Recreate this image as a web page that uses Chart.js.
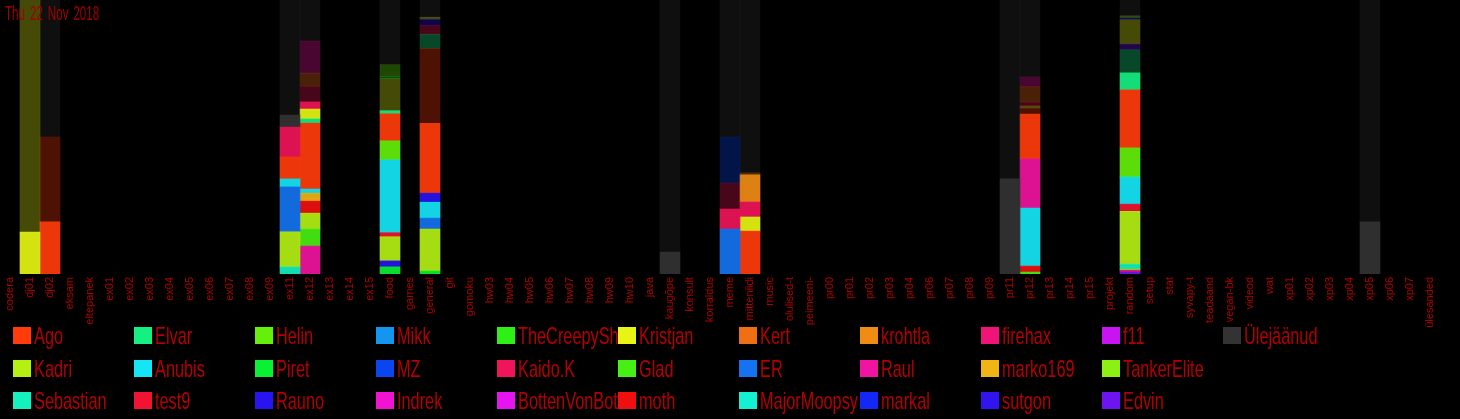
<!DOCTYPE html>
<html>
<head>
<meta charset="utf-8">
<script src="https://cdn.jsdelivr.net/npm/chart.js@4"></script>
<style>
  html, body { margin: 0; padding: 0; background: #000; }
  #wrap { position: relative; width: 1460px; height: 419px; overflow: hidden; }
  #plot { position: absolute; left: 0; top: 0; width: 1460px; height: 332px; }
  #date { position: absolute; left: 5px; top: 3px; font: 20px/20px 'Liberation Sans', sans-serif; word-spacing: 3px;
          color: #a00000; transform: scaleX(0.58); transform-origin: left top; white-space: nowrap; }
  #legend { position: absolute; left: 13px; top: 320px; display: grid; grid-template-rows: repeat(3, 32.5px);
            grid-auto-flow: column; grid-auto-columns: 121px; }
  .item { white-space: nowrap; overflow: hidden; font: 24px/32px 'Liberation Sans', sans-serif; color: #b40000; }
  .box { display: inline-block; width: 18px; height: 17px; margin-right: 3px; vertical-align: baseline; }
  .name { display: inline-block; transform: scaleX(0.68); transform-origin: left bottom; }
</style>
</head>
<body>
<div id="wrap">
  <div id="plot"><canvas id="channels"></canvas></div>
  <div id="date">Thu 22 Nov 2018</div>
  <div id="legend"></div>
</div>
<script>
// channels (x axis)
var channels = ['codera', 'dj01', 'dj02', 'eksam', 'eltepanek', 'ex01', 'ex02', 'ex03', 'ex04', 'ex05', 'ex06', 'ex07',
    'ex08', 'ex09', 'ex11', 'ex12', 'ex13', 'ex14', 'ex15', 'food', 'games', 'general', 'git', 'gomoku', 'hw03', 'hw04',
    'hw05', 'hw06', 'hw07', 'hw08', 'hw09', 'hw10', 'java', 'kaugõpe', 'konsult', 'korraldus', 'meme', 'mitteniidi',
    'music', 'olulised-t', 'peimeeni-', 'pr00', 'pr01', 'pr02', 'pr03', 'pr04', 'pr06', 'pr07', 'pr08', 'pr09', 'pr11',
    'pr12', 'pr13', 'pr14', 'pr15', 'projekt', 'random', 'setup', 'stat', 'syvapy-t', 'teadaand', 'vegan-bk', 'videod',
    'wat', 'xp01', 'xp02', 'xp03', 'xp04', 'xp05', 'xp06', 'xp07', 'ülesanded'];

// users, in legend order
var users = ['Ago', 'Kadri', 'Sebastian', 'Elvar', 'Anubis', 'test9', 'Helin', 'Piret', 'Rauno', 'Mikk', 'MZ', 'Indrek',
    'TheCreepySh', 'Kaido.K', 'BottenVonBot', 'Kristjan', 'Glad', 'moth', 'Kert', 'ER', 'MajorMoopsy', 'krohtla', 'Raul',
    'markal', 'firehax', 'marko169', 'sutgon', 'f11', 'TankerElite', 'Edvin', 'Ülejäänud'];
var userColors = ['#ff3c0a', '#b4f014', '#14f0be', '#14f082', '#14e6f5', '#f01432', '#64f00a', '#0af032', '#2814f0',
    '#1496f0', '#0a46f0', '#f014d2', '#2df014', '#f0145a', '#e614f0', '#e6f514', '#46f014', '#f00f0f', '#f06e14',
    '#1473f0', '#14f0d2', '#f08c14', '#f014a0', '#1428f5', '#f01478', '#f0b414', '#3214f0', '#c814f0', '#8cf014',
    '#6e14f0', '#333333'];

// share of messages per channel (%), today and earlier, bottom to top
var dj01Today = [['Kristjan', 15.3]];
var dj01Earlier = [['Kristjan', 84.7]];
var dj02Today = [['Ago', 19.0]];
var dj02Earlier = [['Ago', 31.0], ['Ülejäänud', 50.0]];
var ex11Today = [['Sebastian', 2.6], ['Kadri', 12.8], ['ER', 16.4], ['Anubis', 2.9], ['Ago', 8.0], ['Kaido.K', 10.9], ['Ülejäänud', 4.4]];
var ex11Earlier = [['Ülejäänud', 42.0]];
var ex12Today = [['Raul', 10.2], ['Glad', 6.2], ['Kadri', 5.8], ['moth', 4.4], ['marko169', 2.9], ['Anubis', 1.5],
    ['Ago', 24.1], ['Elvar', 1.5], ['Kristjan', 3.6], ['Kaido.K', 2.6]];
var ex12Earlier = [['Kaido.K', 5.8], ['Kert', 4.7], ['Raul', 11.7], ['Ülejäänud', 15.0]];
var foodToday = [['Piret', 2.6], ['Rauno', 2.2], ['Kadri', 8.8], ['test9', 1.5], ['Anubis', 26.6], ['Helin', 6.9],
    ['Ago', 9.9], ['Elvar', 1.1]];
var foodEarlier = [['Kristjan', 11.7], ['Piret', 0.7], ['Helin', 4.4], ['Ülejäänud', 23.6]];
var generalToday = [['Piret', 1.1], ['Kadri', 15.3], ['ER', 4.0], ['Anubis', 5.8], ['Rauno', 3.3], ['Ago', 25.5]];
var generalEarlier = [['Ago', 27.4], ['Elvar', 5.1], ['Kaido.K', 3.3], ['Rauno', 2.2], ['Kristjan', 0.7], ['Ülejäänud', 6.3]];
var kaugopeToday = [['Ülejäänud', 8.0]];
var kaugopeEarlier = [['Ülejäänud', 92.0]];
var memeToday = [['ER', 16.4], ['Kaido.K', 7.3]];
var memeEarlier = [['Kaido.K', 9.5], ['MZ', 16.8], ['Ülejäänud', 50.0]];
var mitteniidiToday = [['Ago', 15.7], ['Kristjan', 5.1], ['Kaido.K', 5.5], ['krohtla', 9.9]];
var mitteniidiEarlier = [['krohtla', 0.7], ['Ülejäänud', 63.1]];
var pr11Today = [['Ülejäänud', 34.7]];
var pr11Earlier = [['Ülejäänud', 65.3]];
var pr12Today = [['Glad', 0.7], ['moth', 2.2], ['Anubis', 21.2], ['Raul', 17.9], ['Ago', 16.4]];
var pr12Earlier = [['Ago', 2.2], ['Kristjan', 0.7], ['Kaido.K', 1.5], ['Kert', 5.5], ['Raul', 3.6], ['Ülejäänud', 28.1]];
var randomToday = [['Edvin', 0.7], ['firehax', 0.7], ['TankerElite', 0.4], ['Sebastian', 1.8], ['Kadri', 19.3],
    ['test9', 2.6], ['Anubis', 9.9], ['Helin', 10.6], ['Ago', 21.2], ['Elvar', 6.2]];
var randomEarlier = [['Elvar', 8.4], ['Edvin', 2.2], ['Kristjan', 8.8], ['Rauno', 0.7], ['TankerElite', 0.7], ['Ülejäänud', 5.8]];
var xp05Today = [['Ülejäänud', 19.0]];
var xp05Earlier = [['Ülejäänud', 81.0]];

var activeChannels = [
    ['dj01', dj01Today, dj01Earlier],
    ['dj02', dj02Today, dj02Earlier],
    ['ex11', ex11Today, ex11Earlier],
    ['ex12', ex12Today, ex12Earlier],
    ['food', foodToday, foodEarlier],
    ['general', generalToday, generalEarlier],
    ['kaugõpe', kaugopeToday, kaugopeEarlier],
    ['meme', memeToday, memeEarlier],
    ['mitteniidi', mitteniidiToday, mitteniidiEarlier],
    ['pr11', pr11Today, pr11Earlier],
    ['pr12', pr12Today, pr12Earlier],
    ['random', randomToday, randomEarlier],
    ['xp05', xp05Today, xp05Earlier]
];

function rgba(hex, a) {
    var n = parseInt(hex.slice(1), 16);
    return 'rgba(' + (n >> 16) + ',' + ((n >> 8) & 255) + ',' + (n & 255) + ',' + a + ')';
}

// one dataset per bar segment so every channel keeps its own order
var datasets = [];
function addSegments(channel, list, alpha) {
    list.forEach(function (s) {
        datasets.push({
            label: s[0],
            data: [{ x: channel, y: s[1] }],
            backgroundColor: rgba(userColors[users.indexOf(s[0])], alpha),
            borderWidth: 0,
            barPercentage: 1,
            categoryPercentage: 1
        });
    });
}
activeChannels.forEach(function (c) {
    addSegments(c[0], c[1], 0.92);
    addSegments(c[0], c[2], 0.3);
});

var ctx = document.getElementById('channels');
var myChart = new Chart(ctx, {
    type: 'bar',
    data: { labels: channels, datasets: datasets },
    options: {
        responsive: true,
        maintainAspectRatio: false,
        animation: false,
        layout: { padding: { left: 0, right: 20, top: 0, bottom: 0 } },
        plugins: { legend: { display: false }, tooltip: { enabled: false } },
        scales: {
            x: {
                stacked: true,
                grid: { display: false, drawTicks: false },
                border: { display: false },
                ticks: {
                    autoSkip: false,
                    maxRotation: 90,
                    minRotation: 90,
                    padding: 3,
                    color: '#b00000',
                    font: { family: "'Liberation Sans', sans-serif", size: 11 }
                },
                afterFit: function (scale) { scale.height = 58; }
            },
            y: { stacked: true, display: false, min: 0, max: 100 }
        }
    }
});

// legend, three rows filled column by column
var legend = document.getElementById('legend');
users.forEach(function (u, i) {
    var item = document.createElement('div');
    item.className = 'item';
    item.innerHTML = '<span class="box" style="background:' + userColors[i] + '"></span><span class="name"></span>';
    item.lastChild.textContent = u;
    legend.appendChild(item);
});
</script>
</body>
</html>
